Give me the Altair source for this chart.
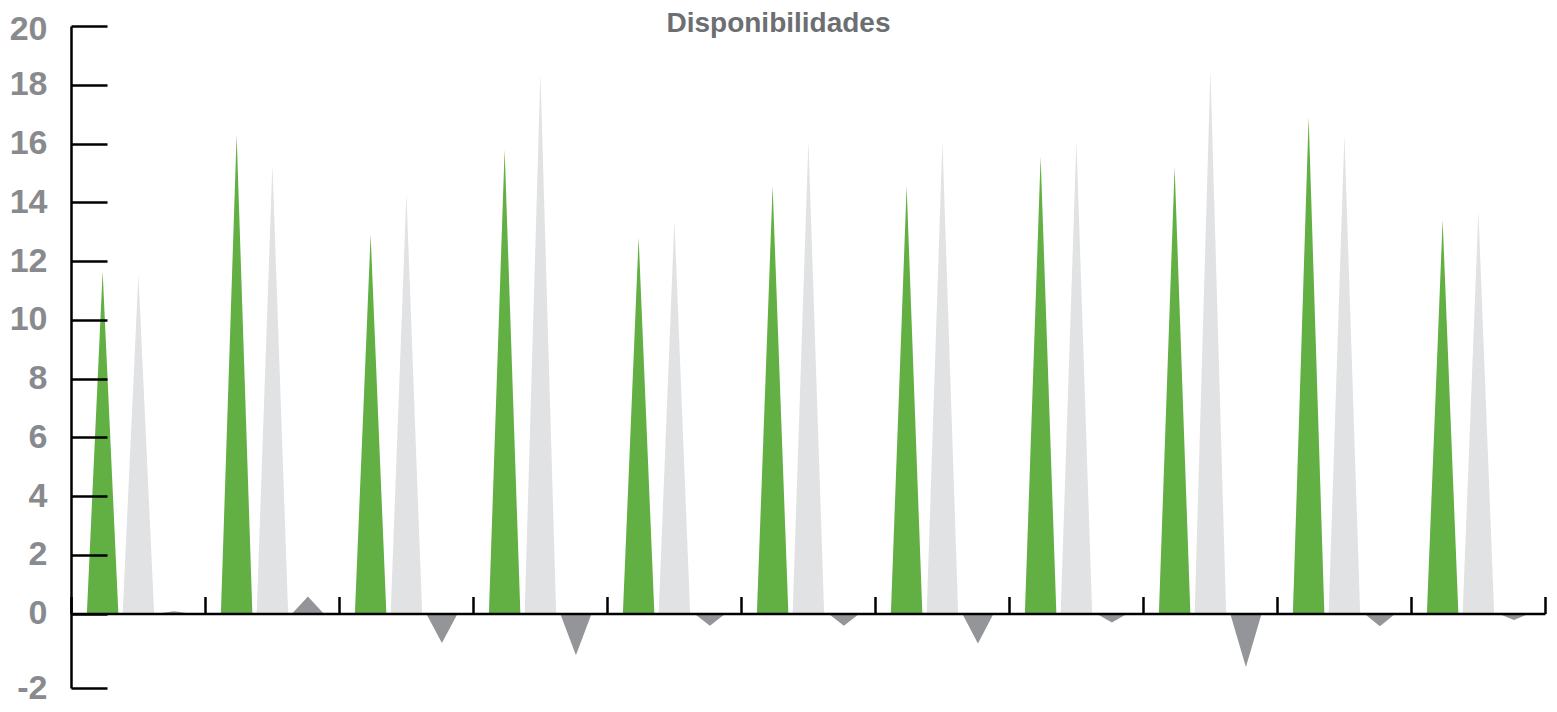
import altair as alt
import pandas as pd

# ---- data ----
serie_verde = [11.65, 16.3, 12.9, 15.8, 12.8, 14.55, 14.55, 15.55, 15.2, 16.9, 13.4]
serie_gris_claro = [11.55, 15.3, 14.3, 18.4, 13.4, 16.1, 16.1, 16.1, 18.5, 16.3, 13.7]
serie_gris_oscuro = [0.08, 0.58, -1.0, -1.42, -0.42, -0.42, -1.02, -0.31, -1.82, -0.43, -0.22]
series = ["Serie 1", "Serie 2", "Serie 3"]
colores = ["#62b044", "#e1e2e3", "#939598"]
y_ticks = [0, 2, 4, 6, 8, 10, 12, 14, 16, 18, 20]
titulo = "Disponibilidades"

# ---- layout ----
W, H = 1474, 662
Y_MIN, Y_MAX = -2.536, 20
offsets = [0.236, 0.503, 0.768]   # centre of each triangle within its group
half = 0.1175                      # half base width in group units
zero_px = H * Y_MAX / (Y_MAX - Y_MIN)
font = "Liberation Sans, Arial, sans-serif"

rows = []
for s_idx, (name, vals) in enumerate(zip(series, [serie_verde, serie_gris_claro, serie_gris_oscuro])):
    for g, v in enumerate(vals):
        c = g + offsets[s_idx]
        key = f"{name}-{g}"
        rows.append(dict(serie=name, id=key, x=c - half, y=0.0))
        rows.append(dict(serie=name, id=key, x=c, y=v))
        rows.append(dict(serie=name, id=key, x=c + half, y=0.0))
df = pd.DataFrame(rows)

x_scale = alt.Scale(domain=[0, len(serie_verde)], nice=False, zero=False)
y_scale = alt.Scale(domain=[Y_MIN, Y_MAX], nice=False, zero=False)
y_vals = [Y_MIN] + y_ticks

areas = alt.Chart(df).mark_area(interpolate="linear", strokeWidth=0).encode(
    x=alt.X("x:Q", scale=x_scale,
            axis=alt.Axis(orient="top", offset=-zero_px, values=list(range(0, len(serie_verde) + 1)),
                          labels=False, ticks=True, tickSize=17, tickWidth=2.5, tickColor="black",
                          domainColor="black", domainWidth=2.5, grid=False, title=None, zindex=1)),
    y=alt.Y("y:Q", scale=y_scale, stack=None,
            axis=alt.Axis(orient="left", values=y_vals,
                          labelExpr="datum.value < -1 ? '-2' : datum.label",
                          labelOffset={"condition": {"test": "datum.value >= 20", "value": 3}, "value": 0},
                          ticks=False, labelPadding=24, labelFont=font, labelFontSize=34,
                          labelFontWeight="bold", labelColor="#898a8e",
                          domainColor="black", domainWidth=2.5, grid=False, title=None,
                          minExtent=63, maxExtent=63, zindex=1)),
    color=alt.Color("serie:N", scale=alt.Scale(domain=series, range=colores), legend=None),
    detail="id:N",
)

tick_layer = alt.Chart(df).mark_point(opacity=0).encode(
    y=alt.Y("y:Q", scale=y_scale,
            axis=alt.Axis(orient="right", offset=-W, values=y_vals, labels=False, domain=False,
                          ticks=True, tickSize=36, tickWidth=2.5, tickColor="black",
                          grid=False, title=None, minExtent=0, maxExtent=0, zindex=1)),
)

title_layer = alt.Chart(pd.DataFrame({"t": [titulo]})).mark_text(
    font=font, fontSize=28, fontWeight="bold", color="#6d6e71",
    align="center", baseline="alphabetic"
).encode(text="t:N", x=alt.value(707.5), y=alt.value(6))

chart = alt.layer(areas, tick_layer, title_layer).resolve_axis(y="independent").properties(
    width=W, height=H,
    autosize=alt.AutoSizeParams(type="none"),
    padding={"left": 63, "top": 18, "right": 4, "bottom": 22},
).configure_view(stroke=None)

chart.save("out.html", embed_options={"renderer": "svg", "actions": False})
